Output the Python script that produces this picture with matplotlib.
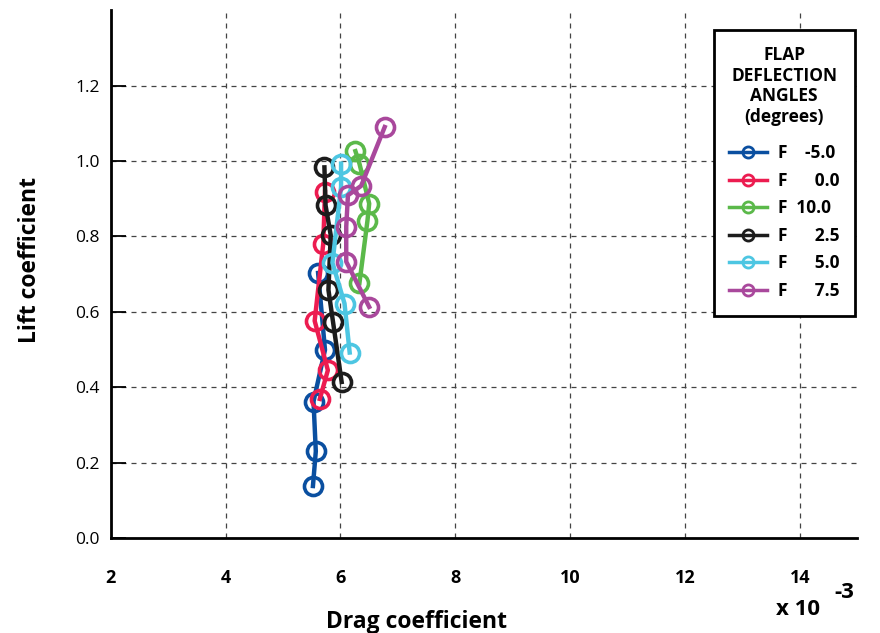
import matplotlib
matplotlib.use("Agg")
from matplotlib import pyplot as plt
from matplotlib.lines import Line2D

plt.rcParams['font.family'] = ['Open Sans', 'DejaVu Sans']

# drag coefficient (x 10^-3) and lift coefficient for each flap angle
flaps = ["-5.0", "0.0", "10.0", "2.5", "5.0", "7.5"]
colores = ["#0a4fa0", "#ec1c50", "#5bb94a", "#1c1c1c", "#4dc6e2", "#a9489c"]

cd_m5 = [5.52, 5.57, 5.53, 5.73, 5.61]
cl_m5 = [0.138, 0.230, 0.362, 0.499, 0.703]
cd_0 = [5.64, 5.78, 5.55, 5.70, 5.73]
cl_0 = [0.369, 0.445, 0.576, 0.781, 0.918]
cd_10 = [6.33, 6.47, 6.50, 6.33, 6.26]
cl_10 = [0.676, 0.842, 0.887, 0.993, 1.026]
cd_25 = [6.02, 5.87, 5.79, 5.83, 5.74, 5.72]
cl_25 = [0.414, 0.573, 0.658, 0.803, 0.882, 0.983]
cd_5 = [6.16, 6.07, 5.86, 6.01, 6.01]
cl_5 = [0.492, 0.622, 0.730, 0.931, 0.993]
cd_75 = [6.50, 6.10, 6.10, 6.13, 6.36, 6.77]
cl_75 = [0.613, 0.733, 0.826, 0.909, 0.934, 1.090]

series = [(cd_m5, cl_m5), (cd_0, cl_0), (cd_10, cl_10),
          (cd_25, cl_25), (cd_5, cl_5), (cd_75, cl_75)]

fig = plt.figure(figsize=(8.8, 6.33), dpi=100)
ax = fig.add_axes([0.126, 0.150, 0.848, 0.834])

for (x, y), c in zip(series, colores):
    ax.plot(x, y, color=c, lw=3.2, marker='o', ms=13, mfc='none',
            mec=c, mew=2.6, zorder=3)

ax.set_xlim(2, 15)
ax.set_ylim(0, 1.4)
ax.set_xticks([2, 4, 6, 8, 10, 12, 14])
ax.set_yticks([0.0, 0.2, 0.4, 0.6, 0.8, 1.0, 1.2])
ax.set_yticklabels(["0.0", "0.2", "0.4", "0.6", "0.8", "1.0", "1.2"])
ax.tick_params(axis='x', length=0, pad=22, labelsize=13)
ax.tick_params(axis='y', direction='in', length=11, width=1.3, pad=8, labelsize=12.5)
for lab in ax.get_xticklabels():
    lab.set_fontweight('bold')

ax.grid(True, color='#444444', lw=0.9, ls=(0, (4, 4)))
ax.set_axisbelow(True)
for s in ['top', 'right']:
    ax.spines[s].set_visible(False)
for s in ['left', 'bottom']:
    ax.spines[s].set_linewidth(2)

ax.set_xlabel("Drag coefficient", fontsize=16.5, fontweight='bold', labelpad=17)
ax.set_ylabel("Lift coefficient", fontsize=16.5, fontweight='bold', labelpad=24)
ax.xaxis.label.set_x(0.41)
ax.yaxis.label.set_y(0.527)
fig.text(0.882, 0.028, "x 10", fontsize=16, fontweight='bold')
fig.text(0.948, 0.056, "-3", fontsize=16, fontweight='bold')

# leyenda
etiquetas = ["F\u2002\u2002-5.0", "F\u2002\u2002\u20070.0", "F\u200210.0",
             "F\u2002\u2002\u20072.5", "F\u2002\u2002\u20075.0", "F\u2002\u2002\u20077.5"]
handles = [Line2D([], [], color=c, lw=2.5, marker='o', ms=8, mfc='none', mew=2)
           for c in colores]
leg = ax.legend(handles, etiquetas, title="FLAP\nDEFLECTION\nANGLES\n(degrees)",
                loc='upper right', bbox_to_anchor=(0.997, 0.962), borderaxespad=0,
                fancybox=False, edgecolor='black', framealpha=1,
                prop={'weight': 'bold', 'size': 12.5}, handlelength=2.2,
                labelspacing=0.55, borderpad=0.9, handletextpad=0.6)
leg.get_frame().set_linewidth(2)
leg.get_title().set_fontweight('bold')
leg.get_title().set_fontsize(12.5)
leg.get_title().set_multialignment('center')
leg._legend_box.sep = 13

fig.savefig("out.png", dpi=100)
